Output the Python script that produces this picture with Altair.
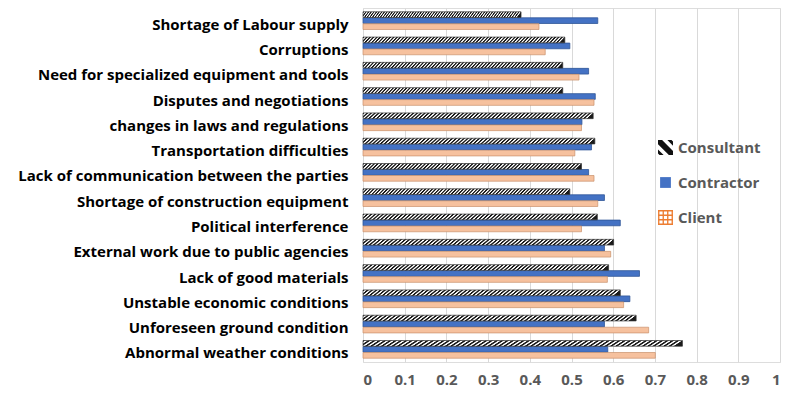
import altair as alt
import pandas as pd

causes = [
    "Shortage of Labour supply",
    "Corruptions",
    "Need for specialized equipment and tools ",
    "Disputes and negotiations",
    "changes in laws and regulations",
    "Transportation difficulties ",
    "Lack of communication between the parties",
    "Shortage of construction equipment",
    "Political interference",
    "External work due to public agencies ",
    "Lack of good materials ",
    "Unstable economic conditions ",
    "Unforeseen ground condition",
    "Abnormal weather conditions",
]
consultant = [0.379, 0.484, 0.479, 0.479, 0.552, 0.556, 0.524, 0.496, 0.562, 0.601, 0.589, 0.617, 0.655, 0.766]
contractor = [0.563, 0.496, 0.541, 0.557, 0.525, 0.548, 0.541, 0.579, 0.617, 0.579, 0.663, 0.640, 0.579, 0.587]
client = [0.422, 0.437, 0.518, 0.554, 0.524, 0.508, 0.554, 0.563, 0.524, 0.594, 0.586, 0.625, 0.685, 0.701]
series = ["Consultant", "Contractor", "Client"]
ticks = [0, 0.1, 0.2, 0.3, 0.4, 0.5, 0.6, 0.7, 0.8, 0.9, 1]

rows = []
for i, c in enumerate(causes):
    for s, vals in zip(series, [consultant, contractor, client]):
        rows.append({"cause": c, "series": s, "value": vals[i]})
df = pd.DataFrame(rows)

FONT = "Open Sans"


def soft_stripes(c1, c2, n, x2=1, y2=0):
    stops = []
    for i in range(n):
        a = i / n
        stops += [
            alt.GradientStop(color=c1, offset=a),
            alt.GradientStop(color=c1, offset=a + 0.3 / n),
            alt.GradientStop(color=c2, offset=a + 0.55 / n),
            alt.GradientStop(color=c2, offset=a + 0.8 / n),
        ]
    stops.append(alt.GradientStop(color=c1, offset=1))
    return alt.LinearGradient(gradient="linear", stops=stops, x1=0, y1=0, x2=x2, y2=y2)


hatch = soft_stripes("#1a1a1a", "#ffffff", 60, x2=1, y2=0.027)

legend_cfg = dict(
    orient="none", legendX=295, legendY=132, padding=0, title=None,
    labelFont=FONT, labelFontSize=15, labelFontWeight="bold", labelColor="#595959",
    rowPadding=19, labelOffset=5, symbolSize=225, symbolStrokeWidth=0,
    symbolOpacity=1,
)

y_enc = alt.Y(
    "cause:N", sort=causes, title=None,
    scale=alt.Scale(paddingInner=0.3, paddingOuter=0.15),
    axis=alt.Axis(labelFont=FONT, labelFontSize=15, labelFontWeight="bold",
                  labelColor="#000000", labelPadding=15, labelOffset=4, ticks=False,
                  domain=False, labelLimit=400, grid=False),
)
x_enc = alt.X(
    "value:Q", title=None,
    scale=alt.Scale(domain=[0, 1], nice=False, zero=True),
    axis=alt.Axis(values=ticks, format="~g", labelFont=FONT, labelFontSize=15,
                  labelFontWeight="bold", labelColor="#595959", labelPadding=10,
                  tickSize=0, domain=False, grid=True, gridColor="#D9D9D9",
                  gridWidth=1),
)
yoff = alt.YOffset("series:N", sort=series,
                   scale=alt.Scale(domain=series, paddingInner=0.05))

path_consultant = ("M-1,-1L-0.45,-1L1,0.45L1,1L0.45,1L-1,-0.45Z"
                   "M0.25,-1L0.8,-1L1,-0.8L1,-0.25Z"
                   "M-1,0.25L-0.25,1L-0.8,1L-1,0.8Z")
path_contractor = "M-0.72,-0.72H0.72V0.72H-0.72Z"
gp = []
for p in [-0.9, -0.3, 0.3, 0.9]:
    a, b = p - 0.09, p + 0.09
    gp.append(f"M{a:.2f},-1H{b:.2f}V1H{a:.2f}Z")
    gp.append(f"M-1,{a:.2f}H1V{b:.2f}H-1Z")
path_client = "".join(gp)

color_scale = alt.Scale(domain=series, range=["#111111", "#4472C4", "#ED7D31"])
shape_scale = alt.Scale(domain=series, range=[path_consultant, path_contractor, path_client])

base = alt.Chart(df).encode(x=x_enc, y=y_enc, yOffset=yoff)

contractor_layer = base.transform_filter(alt.datum.series == "Contractor").mark_bar(
    stroke="#2F5597", strokeWidth=0.8
).encode(color=alt.Color("series:N", scale=color_scale, legend=alt.Legend(**legend_cfg)))

consultant_layer = base.transform_filter(alt.datum.series == "Consultant").mark_bar(
    color=hatch, stroke="#333333", strokeWidth=0.7
)

client_layer = base.transform_filter(alt.datum.series == "Client").mark_bar(
    color="#F6C19E", stroke="#C9916C", strokeWidth=0.7
)

legend_layer = base.transform_filter(alt.datum.series == "none").mark_point(filled=True).encode(
    color=alt.Color("series:N", scale=color_scale, legend=alt.Legend(**legend_cfg)),
    shape=alt.Shape("series:N", scale=shape_scale, legend=alt.Legend(**legend_cfg)),
)

chart = alt.layer(contractor_layer, consultant_layer, client_layer, legend_layer).properties(
    width=417, height=354,
    autosize=alt.AutoSizeParams(type="none"),
    padding={"left": 355, "top": 0, "right": 12, "bottom": 28},
).configure_view(stroke=None).configure(background="white")

chart.save("out.html", embed_options={"renderer": "svg", "actions": False})
